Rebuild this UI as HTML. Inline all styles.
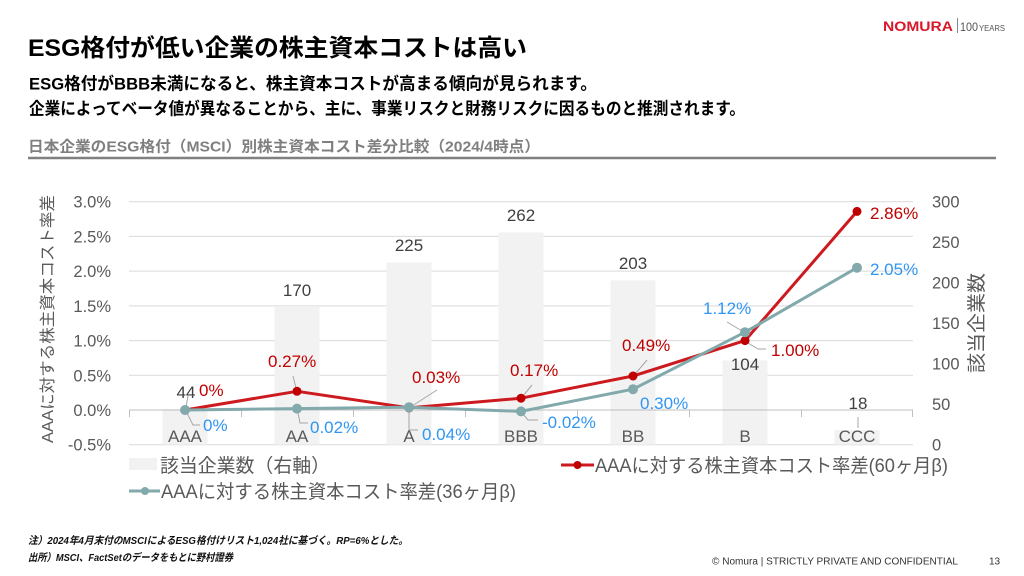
<!DOCTYPE html>
<html lang="ja">
<head>
<meta charset="utf-8">
<style>
  html,body{margin:0;padding:0;background:#fff;}
  svg{display:block;}
  .jp{font-family:"Liberation Sans","Noto Sans CJK JP",sans-serif;}
</style>
</head>
<body>
<svg width="1024" height="576" viewBox="0 0 1024 576" xmlns="http://www.w3.org/2000/svg" class="jp" font-family="'Liberation Sans','Noto Sans CJK JP',sans-serif">
  <rect x="0" y="0" width="1024" height="576" fill="#ffffff"/>

  <!-- Logo -->
  <text x="883" y="31" font-size="13.5" font-weight="700" fill="#d7192b" textLength="70" lengthAdjust="spacingAndGlyphs">NOMURA</text>
  <line x1="957.5" y1="18" x2="957.5" y2="33" stroke="#888" stroke-width="1"/>
  <text x="960" y="31" font-size="12" fill="#555" textLength="18" lengthAdjust="spacingAndGlyphs">100</text>
  <text x="979" y="31" font-size="8" fill="#555" textLength="26" lengthAdjust="spacingAndGlyphs">YEARS</text>

  <!-- Title -->
  <text x="28" y="56" font-size="24" font-weight="700" fill="#000" textLength="499" lengthAdjust="spacingAndGlyphs">ESG格付が低い企業の株主資本コストは高い</text>
  <text x="29" y="89.5" font-size="17" font-weight="700" fill="#000" textLength="568" lengthAdjust="spacingAndGlyphs">ESG格付がBBB未満になると、株主資本コストが高まる傾向が見られます。</text>
  <text x="29" y="114.5" font-size="17" font-weight="700" fill="#000" textLength="716" lengthAdjust="spacingAndGlyphs">企業によってベータ値が異なることから、主に、事業リスクと財務リスクに因るものと推測されます。</text>

  <!-- Chart title -->
  <text x="28" y="151.5" font-size="15" font-weight="700" fill="#7f7f7f" textLength="512" lengthAdjust="spacingAndGlyphs">日本企業のESG格付（MSCI）別株主資本コスト差分比較（2024/4時点）</text>
  <line x1="28" y1="158" x2="996" y2="158" stroke="#808080" stroke-width="2.5"/>

  <!-- Gridlines -->
  <g stroke="#d9d9d9" stroke-width="1">
    <line x1="129" y1="201.7" x2="913" y2="201.7"/>
    <line x1="129" y1="236.4" x2="913" y2="236.4"/>
    <line x1="129" y1="271.1" x2="913" y2="271.1"/>
    <line x1="129" y1="305.9" x2="913" y2="305.9"/>
    <line x1="129" y1="340.6" x2="913" y2="340.6"/>
    <line x1="129" y1="375.3" x2="913" y2="375.3"/>
    <line x1="129" y1="444.7" x2="913" y2="444.7"/>
  </g>

  <!-- Bars -->
  <g fill="#f2f2f2">
    <rect x="162.5" y="409.1" width="45" height="35.6"/>
    <rect x="274.5" y="307.0" width="45" height="137.7"/>
    <rect x="386.5" y="262.5" width="45" height="182.2"/>
    <rect x="498.5" y="232.5" width="45" height="212.2"/>
    <rect x="610.5" y="280.3" width="45" height="164.4"/>
    <rect x="722.5" y="360.5" width="45" height="84.2"/>
    <rect x="834.5" y="430.1" width="45" height="14.6"/>
  </g>

  <!-- Category axis -->
  <line x1="129" y1="410" x2="913" y2="410" stroke="#bfbfbf" stroke-width="1"/>
  <g stroke="#bfbfbf" stroke-width="1">
    <line x1="129.5" y1="410" x2="129.5" y2="417"/>
    <line x1="241.5" y1="410" x2="241.5" y2="417"/>
    <line x1="353.5" y1="410" x2="353.5" y2="417"/>
    <line x1="465.5" y1="410" x2="465.5" y2="417"/>
    <line x1="577.5" y1="410" x2="577.5" y2="417"/>
    <line x1="689.5" y1="410" x2="689.5" y2="417"/>
    <line x1="801.5" y1="410" x2="801.5" y2="417"/>
    <line x1="912.5" y1="410" x2="912.5" y2="417"/>
  </g>

  <!-- Left axis labels -->
  <g font-size="16.5" fill="#595959" text-anchor="end">
    <text x="111" y="207.7">3.0%</text>
    <text x="111" y="242.4">2.5%</text>
    <text x="111" y="277.1">2.0%</text>
    <text x="111" y="311.9">1.5%</text>
    <text x="111" y="346.6">1.0%</text>
    <text x="111" y="381.3">0.5%</text>
    <text x="111" y="416">0.0%</text>
    <text x="111" y="450.7">-0.5%</text>
  </g>

  <!-- Right axis labels -->
  <g font-size="16.5" fill="#595959" text-anchor="start">
    <text x="932" y="207.7">300</text>
    <text x="932" y="248.2">250</text>
    <text x="932" y="288.7">200</text>
    <text x="932" y="329.2">150</text>
    <text x="932" y="369.7">100</text>
    <text x="932" y="410.2">50</text>
    <text x="932" y="450.7">0</text>
  </g>

  <!-- Axis titles -->
  <text x="0" y="6" transform="translate(47,319) rotate(-90)" text-anchor="middle" font-size="16" fill="#595959" textLength="248" lengthAdjust="spacingAndGlyphs">AAAに対する株主資本コスト率差</text>
  <text x="0" y="7" transform="translate(976,323) rotate(-90)" text-anchor="middle" font-size="19" fill="#595959" textLength="100" lengthAdjust="spacingAndGlyphs">該当企業数</text>

  <!-- Category labels -->
  <g font-size="17" fill="#595959" text-anchor="middle">
    <text x="185" y="442">AAA</text>
    <text x="297" y="442">AA</text>
    <text x="409" y="442">A</text>
    <text x="521" y="442">BBB</text>
    <text x="633" y="442">BB</text>
    <text x="745" y="442">B</text>
    <text x="857" y="442">CCC</text>
  </g>

  <!-- Leader lines -->
  <g stroke="#a6a6a6" stroke-width="1" fill="none">
    <polyline points="188,396 186,407"/>
    <polyline points="187,413 193,425 200,425"/>
    <polyline points="293,376 296,388"/>
    <polyline points="298,413 300,423 308,423"/>
    <polyline points="437,390 412,406"/>
    <polyline points="409,412 409,430 418,430"/>
    <polyline points="532,385 523,396"/>
    <polyline points="522,413 528,420 538,420"/>
    <polyline points="647,360 636,373"/>
    <polyline points="748,343 758,349 766,349"/>
    <polyline points="727,322 742,331"/>
    <polyline points="858,417 858,428"/>
  </g>

  <!-- Red series (60m beta) -->
  <polyline points="185,410 297,391.3 409,407.9 521,398.2 633,376 745,340.6 857,211.4" fill="none" stroke="#cc1a1f" stroke-width="3" stroke-linejoin="round"/>
  <g fill="#c00000">
    <circle cx="185" cy="410" r="4.5"/>
    <circle cx="297" cy="391.3" r="4.5"/>
    <circle cx="409" cy="407.9" r="4.5"/>
    <circle cx="521" cy="398.2" r="4.5"/>
    <circle cx="633" cy="376" r="4.5"/>
    <circle cx="745" cy="340.6" r="4.5"/>
    <circle cx="857" cy="211.4" r="4.5"/>
  </g>

  <!-- Teal series (36m beta) -->
  <polyline points="185,410 297,408.6 409,407.2 521,411.4 633,389.2 745,332.2 857,267.7" fill="none" stroke="#82a9ab" stroke-width="3" stroke-linejoin="round"/>
  <g fill="#82a9ab">
    <circle cx="185" cy="410" r="5"/>
    <circle cx="297" cy="408.6" r="5"/>
    <circle cx="409" cy="407.2" r="5"/>
    <circle cx="521" cy="411.4" r="5"/>
    <circle cx="633" cy="389.2" r="5"/>
    <circle cx="745" cy="332.2" r="5"/>
    <circle cx="857" cy="267.7" r="5"/>
  </g>

  <!-- Bar value labels -->
  <g font-size="17" fill="#404040" text-anchor="middle">
    <text x="186" y="398">44</text>
    <text x="297" y="296">170</text>
    <text x="409" y="251">225</text>
    <text x="521" y="221">262</text>
    <text x="633" y="269">203</text>
    <text x="745" y="370">104</text>
    <text x="858" y="409">18</text>
  </g>

  <!-- Red labels -->
  <g font-size="17" fill="#c00000">
    <text x="199" y="396">0%</text>
    <text x="268" y="367">0.27%</text>
    <text x="412" y="383">0.03%</text>
    <text x="510" y="376">0.17%</text>
    <text x="622" y="351">0.49%</text>
    <text x="771" y="356">1.00%</text>
    <text x="870" y="219">2.86%</text>
  </g>

  <!-- Blue labels -->
  <g font-size="17" fill="#2f96f3">
    <text x="203" y="431">0%</text>
    <text x="310" y="433">0.02%</text>
    <text x="422" y="440">0.04%</text>
    <text x="542" y="428">-0.02%</text>
    <text x="640" y="409">0.30%</text>
    <text x="703" y="314">1.12%</text>
    <text x="870" y="275">2.05%</text>
  </g>

  <!-- Legend -->
  <rect x="129" y="458" width="28" height="12" fill="#f2f2f2"/>
  <text x="160" y="472" font-size="19" fill="#595959" textLength="170" lengthAdjust="spacingAndGlyphs">該当企業数（右軸）</text>

  <line x1="561" y1="465" x2="594" y2="465" stroke="#cc1a1f" stroke-width="3"/>
  <circle cx="577.5" cy="465" r="4" fill="#c00000"/>
  <text x="595" y="472" font-size="19" fill="#595959" textLength="353" lengthAdjust="spacingAndGlyphs">AAAに対する株主資本コスト率差(60ヶ月β)</text>

  <line x1="129" y1="491" x2="160" y2="491" stroke="#82a9ab" stroke-width="3"/>
  <circle cx="145" cy="491" r="4" fill="#82a9ab"/>
  <text x="161" y="498" font-size="19" fill="#595959" textLength="355" lengthAdjust="spacingAndGlyphs">AAAに対する株主資本コスト率差(36ヶ月β)</text>

  <!-- Footer notes -->
  <text x="28" y="544" font-size="10.5" font-weight="700" font-style="italic" fill="#111" textLength="380" lengthAdjust="spacingAndGlyphs">注）2024年4月末付のMSCIによるESG格付けリスト1,024社に基づく。RP=6%とした。</text>
  <text x="28" y="561" font-size="10.5" font-weight="700" font-style="italic" fill="#111" textLength="205" lengthAdjust="spacingAndGlyphs">出所）MSCI、FactSetのデータをもとに野村證券</text>

  <text x="712" y="564.5" font-size="10" fill="#333" textLength="246" lengthAdjust="spacingAndGlyphs">© Nomura | STRICTLY PRIVATE AND CONFIDENTIAL</text>
  <text x="989" y="564.5" font-size="10" fill="#333">13</text>
</svg>
</body>
</html>
